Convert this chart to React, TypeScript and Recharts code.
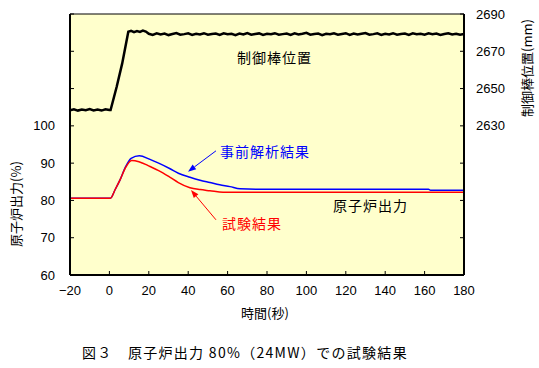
import React from "react";
import { LineChart, Line, XAxis, YAxis, CartesianGrid, ReferenceLine } from "recharts";

// 試験結果 (reactor power, %)
const testTime = [-20, 0.5, 3, 5.4, 8, 11.3, 15, 20.6, 25, 30.8, 35, 40.9, 46, 51, 57.7, 65, 180];
const testPower = [80.6, 80.6, 83, 85.5, 88.6, 90.7, 90.4, 89.1, 88.0, 86.2, 84.8, 83.4, 82.9, 82.6, 82.2, 82.2, 82.2];

// 事前解析結果 (reactor power, %)
const calcTime = [-20, 0.5, 3, 5.4, 8, 11, 15.2, 20.6, 25, 30.8, 35, 40.9, 46, 51, 56, 61.2, 66.3, 75, 162, 163, 180];
const calcPower = [80.6, 80.6, 83, 85.5, 88.8, 91.3, 92.0, 91.0, 90.0, 88.5, 87.3, 86.2, 85.4, 84.8, 84.2, 83.7, 83.1, 83.0, 83.0, 82.7, 82.7];

// 制御棒位置 (mm)
const rodStartTime = [-20, -18, -16, -14, -12, -10, -8, -6, -4, -2, 0, 0.6, 3.7, 6.5, 9.6, 11, 12.5, 14, 15.5, 17, 18.5];
const rodStartPos = [2638.3, 2638.9, 2638.2, 2638.8, 2638.4, 2639.0, 2638.3, 2638.7, 2638.2, 2638.9, 2638.5, 2638.5, 2651, 2663.5, 2680.5, 2681.0, 2680.3, 2680.9, 2680.4, 2681.1, 2680.6];
const rodSteadyPos = [
  2679.4, 2678.8, 2679.6, 2679.0, 2679.5, 2678.7, 2679.3, 2679.8, 2678.9, 2679.2,
  2679.6, 2678.8, 2679.4, 2679.0, 2679.7, 2678.9, 2679.3, 2679.5, 2678.8, 2679.6,
  2679.1, 2679.4, 2678.7, 2679.5, 2679.0, 2679.8, 2678.9, 2679.3, 2679.6, 2678.8,
  2679.4, 2679.1, 2679.7, 2678.9, 2679.2, 2679.5, 2678.8, 2679.6, 2679.0, 2679.4,
  2679.9, 2678.9, 2679.3, 2679.5, 2678.7, 2679.4, 2679.1, 2679.6, 2678.9, 2679.3,
  2679.7, 2678.8, 2679.5, 2679.0, 2679.4, 2679.8, 2678.9, 2679.2, 2679.6, 2678.8,
  2679.4, 2679.0, 2679.7, 2678.9, 2679.3, 2679.5, 2678.8, 2679.6, 2679.1, 2679.4,
  2678.9, 2679.6, 2679.2, 2679.5, 2678.8, 2679.3, 2679.7, 2679.0, 2679.4, 2678.9, 2679.3,
];
// steady part sampled every 2 s from t=20
const rodSteadyTime = rodSteadyPos.map((_, i) => 20 + i * 2);

const xTicks = [-20, 0, 20, 40, 60, 80, 100, 120, 140, 160, 180];
const powerTicks = [60, 70, 80, 90, 100, 110, 120, 130];
const rodTicks = [2550, 2570, 2590, 2610, 2630, 2650, 2670, 2690];

const zip = (ts: number[], vs: number[]) => ts.map((t, i) => ({ t, v: vs[i] }));
const testData = zip(testTime, testPower);
const calcData = zip(calcTime, calcPower);
const rodData = zip(rodStartTime.concat(rodSteadyTime), rodStartPos.concat(rodSteadyPos));

const tickFont = { fontFamily: "'Liberation Sans', Arial, sans-serif", fontSize: 13, fill: "#000" };
const jp = "'Noto Sans CJK JP', sans-serif";

const arrow = (color: string) => (p: any) => {
  const { x1, y1, x2, y2 } = p;
  const a = Math.atan2(y2 - y1, x2 - x1);
  const L = 8, W = 3;
  const bx = x2 - L * Math.cos(a), by = y2 - L * Math.sin(a);
  const px = -Math.sin(a) * W, py = Math.cos(a) * W;
  return (
    <g>
      <line x1={x1} y1={y1} x2={bx} y2={by} stroke={color} strokeWidth={1} />
      <polygon points={`${x2},${y2} ${bx + px},${by + py} ${bx - px},${by - py}`} fill={color} />
    </g>
  );
};

const Label = ({ x, y, color = "#000", size = 14, spacing = 1, children, style }: any) => (
  <div style={{ position: "absolute", left: x, top: y, color, fontSize: size, letterSpacing: spacing, fontFamily: jp, whiteSpace: "nowrap", lineHeight: 1, ...style }}>
    {children}
  </div>
);

export default function App() {
  return (
    <div style={{ position: "absolute", left: 0, top: 0, width: 539, height: 368, background: "#fff" }}>
      <LineChart width={539} height={368} margin={{ top: 14, right: 25, bottom: 63, left: 20 }}>
        <CartesianGrid fill="#FFFFCC" horizontal={false} vertical={false} />
        <XAxis
          type="number" dataKey="t" domain={[-20, 180]} ticks={xTicks} allowDataOverflow
          tick={tickFont} tickSize={-4} tickMargin={15} height={30}
          axisLine={{ stroke: "#000", strokeWidth: 2 }} tickLine={{ stroke: "#000" }}
          tickFormatter={(v: number) => (v < 0 ? `\u2212${Math.abs(v)}` : `${v}`)}
        />
        <YAxis
          yAxisId="p" domain={[60, 130]} ticks={powerTicks} allowDataOverflow width={50}
          tick={tickFont} tickSize={-4} tickMargin={19}
          axisLine={{ stroke: "#000", strokeWidth: 2 }} tickLine={{ stroke: "#000" }}
          tickFormatter={(v: number) => (v > 100 ? "" : `${v}`)}
        />
        <YAxis
          yAxisId="r" orientation="right" domain={[2550, 2690]} ticks={rodTicks} allowDataOverflow width={50}
          tick={{ ...tickFont, textAnchor: "start" }} tickSize={-4} tickMargin={16}
          axisLine={{ stroke: "#000", strokeWidth: 2 }} tickLine={{ stroke: "#000" }}
          tickFormatter={(v: number) => (v < 2630 ? "" : `${v}`)}
        />
        <ReferenceLine yAxisId="p" y={130} stroke="#000" strokeWidth={1} />
        <Line data={rodData} yAxisId="r" dataKey="v" stroke="#000" strokeWidth={2.5} dot={false} isAnimationActive={false} type="linear" />
        <Line data={calcData} yAxisId="p" dataKey="v" stroke="#0000FF" strokeWidth={1.5} dot={false} isAnimationActive={false} type="monotone" />
        <Line data={testData} yAxisId="p" dataKey="v" stroke="#FF0000" strokeWidth={1.5} dot={false} isAnimationActive={false} type="monotone" />
        <ReferenceLine yAxisId="p" segment={[{ x: 54.1, y: 93.3 }, { x: 39.9, y: 87.7 }]} shape={arrow("#0000FF")} />
        <ReferenceLine yAxisId="p" segment={[{ x: 54.1, y: 74.8 }, { x: 41.4, y: 82.8 }]} shape={arrow("#FF0000")} />
      </LineChart>

      <Label x={237} y={50}>制御棒位置</Label>
      <Label x={220} y={144} color="#0000FF">事前解析結果</Label>
      <Label x={222} y={216} color="#FF0000">試験結果</Label>
      <Label x={333} y={198}>原子炉出力</Label>

      <Label x={241} y={306} size={13} spacing={0}>時間(秒)</Label>
      <Label x={15} y={204} size={13} spacing={0} style={{ transform: "translate(-50%, -50%) rotate(-90deg)" }}>原子炉出力(%)</Label>
      <Label x={526} y={68} size={13} spacing={0} style={{ transform: "translate(-50%, -50%) rotate(-90deg)" }}>制御棒位置(mm)</Label>

      <Label x={82} y={345} size={14} spacing={1.3}>図３　原子炉出力 80%（24MW）での試験結果</Label>
    </div>
  );
}
